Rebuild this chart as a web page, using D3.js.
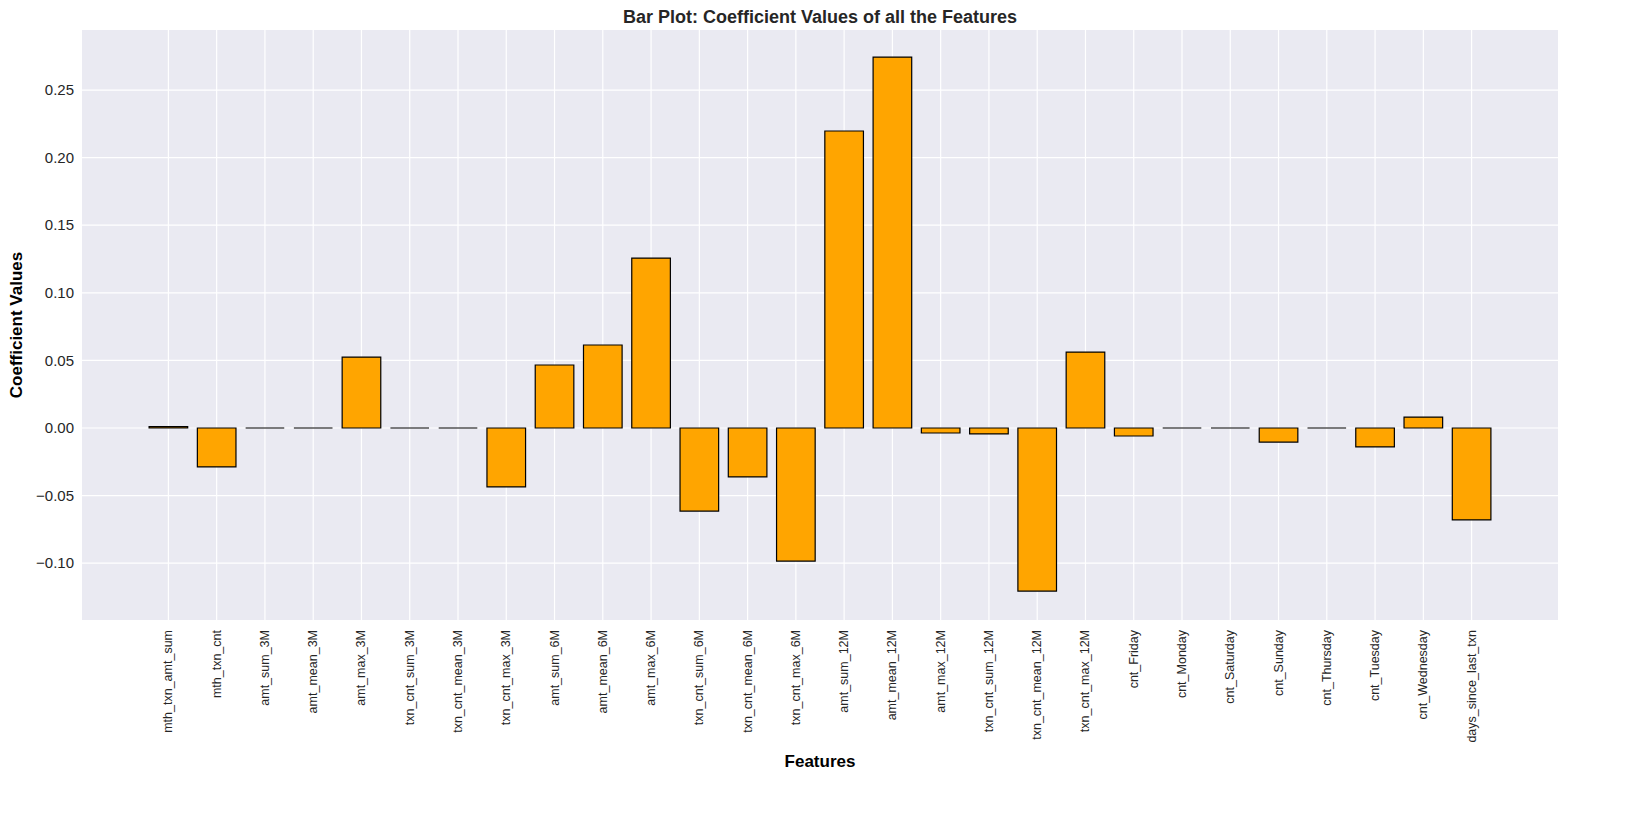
<!DOCTYPE html>
<html>
<head>
<meta charset="utf-8">
<script src="https://cdn.jsdelivr.net/npm/d3@7"></script>
<style>
  body { margin: 0; background: #fff; }
  text { font-family: Arial, "Liberation Sans", sans-serif; }
</style>
</head>
<body>
<svg id="chart"></svg>
<script>
const features = ["mth_txn_amt_sum", "mth_txn_cnt", "amt_sum_3M", "amt_mean_3M", "amt_max_3M",
  "txn_cnt_sum_3M", "txn_cnt_mean_3M", "txn_cnt_max_3M", "amt_sum_6M", "amt_mean_6M", "amt_max_6M",
  "txn_cnt_sum_6M", "txn_cnt_mean_6M", "txn_cnt_max_6M", "amt_sum_12M", "amt_mean_12M", "amt_max_12M",
  "txn_cnt_sum_12M", "txn_cnt_mean_12M", "txn_cnt_max_12M", "cnt_Friday", "cnt_Monday", "cnt_Saturday",
  "cnt_Sunday", "cnt_Thursday", "cnt_Tuesday", "cnt_Wednesday", "days_since_last_txn"];
const coefficients = [0.001, -0.0288, 0, 0, 0.0525, 0, 0, -0.0436, 0.0466, 0.0614, 0.1257,
  -0.0614, -0.0362, -0.0984, 0.2197, 0.2744, -0.0037, -0.0044, -0.1206, 0.0562,
  -0.0059, 0, 0, -0.0104, 0, -0.014, 0.0081, -0.068];
const yTicks = [-0.10, -0.05, 0.00, 0.05, 0.10, 0.15, 0.20, 0.25];

const width = 1645, height = 817;
const margin = { left: 82, right: 87, top: 30, bottom: 197 };

const svg = d3.select('#chart').attr('width', width).attr('height', height);

// matplotlib-style x limits: bar centres at 0..n-1 plus 5% padding
const n = features.length;
const pad = (n - 1 + 0.8) * 0.05;
const x = d3.scaleLinear().domain([-0.4 - pad, n - 1 + 0.4 + pad]).range([margin.left, width - margin.right]);
const y = d3.scaleLinear().domain([-0.142, 0.2944]).range([height - margin.bottom, margin.top]);

svg.append('rect')
  .attr('x', margin.left).attr('y', margin.top)
  .attr('width', width - margin.left - margin.right)
  .attr('height', height - margin.top - margin.bottom)
  .style('fill', '#eaeaf2');

const g = svg.append('g');

// grid
g.selectAll('.hgrid').data(yTicks).enter().append('line')
  .attr('x1', margin.left).attr('x2', width - margin.right)
  .attr('y1', d => y(d)).attr('y2', d => y(d))
  .style('stroke', '#fff').style('stroke-width', 1.2);
g.selectAll('.vgrid').data(features).enter().append('line')
  .attr('x1', (d, i) => x(i)).attr('x2', (d, i) => x(i))
  .attr('y1', margin.top).attr('y2', height - margin.bottom)
  .style('stroke', '#fff').style('stroke-width', 1.2);

// bars as closed paths so zero-height bars still show their outline
const bw = x(0.8) - x(0);
g.selectAll('.bar').data(coefficients).enter().append('path')
  .attr('d', (d, i) => {
    const x0 = x(i) - bw / 2, x1 = x(i) + bw / 2, y0 = y(0), y1 = y(d);
    return `M${x0},${y0}L${x0},${y1}L${x1},${y1}L${x1},${y0}Z`;
  })
  .style('fill', '#FFA500').style('stroke', '#000').style('stroke-width', 1.2);

// y tick labels
g.selectAll('.ytick').data(yTicks).enter().append('text')
  .attr('x', margin.left - 8).attr('y', d => y(d)).attr('dy', '0.35em')
  .attr('text-anchor', 'end').style('font-size', '15px').style('fill', '#262626')
  .text(d => d < 0 ? '\u2212' + d3.format('.2f')(-d) : d3.format('.2f')(d));

// x tick labels
g.selectAll('.xtick').data(features).enter().append('text')
  .attr('transform', (d, i) => `translate(${x(i) + 4}, ${height - margin.bottom + 10}) rotate(-90)`)
  .attr('text-anchor', 'end')
  .style('font-size', '12.5px').style('fill', '#262626')
  .text(d => d);

svg.append('text')
  .attr('x', (margin.left + width - margin.right) / 2).attr('y', 23)
  .attr('text-anchor', 'middle').style('font-size', '18px').style('font-weight', 'bold').style('fill', '#262626')
  .text('Bar Plot: Coefficient Values of all the Features');

svg.append('text')
  .attr('x', (margin.left + width - margin.right) / 2).attr('y', 767)
  .attr('text-anchor', 'middle').style('font-size', '17px').style('font-weight', 'bold').style('fill', '#000')
  .text('Features');

svg.append('text')
  .attr('transform', `translate(22, ${(margin.top + height - margin.bottom) / 2}) rotate(-90)`)
  .attr('text-anchor', 'middle').style('font-size', '17px').style('font-weight', 'bold').style('fill', '#000')
  .text('Coefficient Values');
</script>
</body>
</html>
